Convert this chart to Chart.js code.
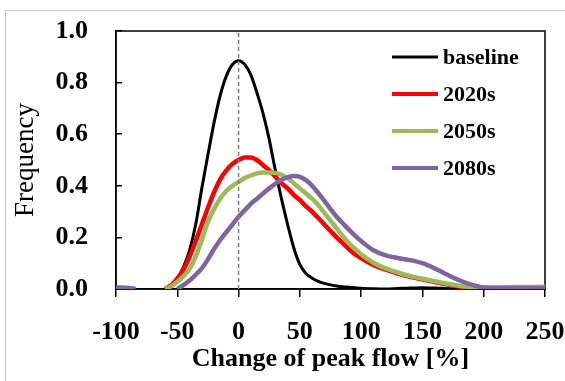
<!DOCTYPE html>
<html>
<head>
<meta charset="utf-8">
<script src="https://cdn.jsdelivr.net/npm/chart.js@4.4.1/dist/chart.umd.min.js"></script>
<style>
  html, body { margin: 0; padding: 0; background: #ffffff; }
  #marco { position: relative; width: 565px; height: 381px; overflow: hidden; }
  #borde { position: absolute; left: 5px; top: 10px; width: 620px; height: 420px; border: 1px solid #c8c8c8; pointer-events: none; }
  canvas { position: absolute; left: 0; top: 0; }
</style>
</head>
<body>
<div id="marco">
  <canvas id="graficaFrecuencia" width="565" height="381"></canvas>
  <div id="borde"></div>
</div>
<script>
// cambio del caudal pico [%]
const cambioX = [-60, -55, -50, -45, -40, -35, -30, -25, -20, -15, -10, -5, 0, 5, 10, 15, 20, 25, 30, 35, 40, 45, 50, 55, 60, 65, 70, 75, 80, 85, 90, 95, 100, 110, 120, 130, 140, 150, 160, 170, 180, 190, 200, 210, 220, 230, 240, 250];

const baseline = [0, 0.012, 0.04, 0.085, 0.15, 0.25, 0.39, 0.52, 0.645, 0.75, 0.825, 0.87, 0.885, 0.87, 0.83, 0.76, 0.68, 0.58, 0.46, 0.35, 0.25, 0.16, 0.095, 0.06, 0.042, 0.03, 0.022, 0.016, 0.012, 0.009, 0.007, 0.005, 0.003, 0.001, 0, 0.002, 0.004, 0.005, 0.004, 0.002, 0, 0, 0, 0, 0, 0, 0, 0];
const s2020 = [0, 0.015, 0.04, 0.075, 0.125, 0.185, 0.25, 0.315, 0.375, 0.425, 0.46, 0.485, 0.5, 0.51, 0.51, 0.5, 0.48, 0.46, 0.435, 0.41, 0.39, 0.365, 0.345, 0.32, 0.3, 0.275, 0.25, 0.225, 0.2, 0.178, 0.155, 0.135, 0.12, 0.093, 0.075, 0.06, 0.047, 0.037, 0.027, 0.018, 0.01, 0.005, 0.002, 0, 0, 0, 0, 0];
const s2050 = [0, 0.01, 0.028, 0.05, 0.078, 0.125, 0.19, 0.26, 0.31, 0.35, 0.38, 0.4, 0.415, 0.43, 0.44, 0.448, 0.452, 0.452, 0.45, 0.443, 0.43, 0.41, 0.39, 0.37, 0.35, 0.325, 0.295, 0.265, 0.235, 0.205, 0.178, 0.155, 0.135, 0.102, 0.08, 0.064, 0.05, 0.04, 0.03, 0.021, 0.013, 0.008, 0.006, 0.006, 0.007, 0.008, 0.008, 0.009];
const s2080 = [null, null, 0, 0.015, 0.033, 0.055, 0.08, 0.115, 0.155, 0.19, 0.22, 0.25, 0.28, 0.305, 0.33, 0.35, 0.37, 0.39, 0.408, 0.423, 0.433, 0.438, 0.435, 0.422, 0.4, 0.372, 0.342, 0.31, 0.28, 0.255, 0.23, 0.207, 0.186, 0.15, 0.13, 0.12, 0.112, 0.1, 0.08, 0.056, 0.034, 0.017, 0.006, 0.004, 0.004, 0.004, 0.004, 0.004];

// cola izquierda de 2080s
const colaX = [-100, -92, -84];
const cola2080 = [0.006, 0.005, 0];

const nombres = ['baseline', '2020s', '2050s', '2080s'];
const colores = ['#000000', '#FF0000', '#9BBB59', '#8064A2'];
const grosores = [3, 4.5, 4.5, 4.5];

const ticksX = [-100, -50, 0, 50, 100, 150, 200, 250];
const ticksY = [0, 0.2, 0.4, 0.6, 0.8, 1.0];

function puntos(xs, ys) {
    return xs.map((x, i) => ({ x: x, y: ys[i] }));
}

const serie2080 = puntos(colaX, cola2080).concat([{ x: -80, y: null }], puntos(cambioX, s2080));
const series = [puntos(cambioX, baseline), puntos(cambioX, s2020), puntos(cambioX, s2050), serie2080];

const fuente = 'Liberation Serif';

/* datasets */
let conjuntos = series.map((datos, i) => ({
    label: nombres[i],
    data: datos,
    borderColor: colores[i],
    borderWidth: grosores[i],
    pointRadius: 0,
    fill: false,
    cubicInterpolationMode: 'monotone',
    spanGaps: false,
    order: 4 - i
}));

conjuntos.push({
    label: 'cero',
    data: [{ x: 0, y: 0 }, { x: 0, y: 1 }],
    borderColor: '#808080',
    borderWidth: 1.5,
    borderDash: [4, 3],
    pointRadius: 0,
    order: 0
});

/* marco del area */
const marcoArea = {
    id: 'marcoArea',
    beforeDatasetsDraw(chart) {
        const { ctx, chartArea } = chart;
        ctx.save();
        ctx.strokeStyle = '#000000';
        ctx.lineWidth = 1.5;
        ctx.strokeRect(chartArea.left, chartArea.top, chartArea.right - chartArea.left, chartArea.bottom - chartArea.top);
        ctx.restore();
    }
};

/* leyenda */
const leyenda = {
    id: 'leyenda',
    afterDraw(chart) {
        const { ctx, chartArea } = chart;
        const x0 = chartArea.right - 153;
        ctx.save();
        ctx.font = 'bold 22px "' + fuente + '"';
        ctx.textBaseline = 'middle';
        ctx.fillStyle = '#000000';
        nombres.forEach((nombre, i) => {
            const y = chartArea.top + 26 + i * 37;
            ctx.strokeStyle = colores[i];
            ctx.lineWidth = i === 0 ? 3 : 4;
            ctx.beginPath();
            ctx.moveTo(x0, y);
            ctx.lineTo(x0 + 46, y);
            ctx.stroke();
            ctx.fillText(nombre, x0 + 51, y + 1);
        });
        ctx.restore();
    }
};

const grafica = document.getElementById('graficaFrecuencia').getContext('2d');

new Chart(grafica, {
    type: 'line',
    data: { datasets: conjuntos },
    plugins: [marcoArea, leyenda],
    options: {
        responsive: false,
        animation: false,
        devicePixelRatio: 1,
        layout: { padding: { top: 31, right: 20, left: 0, bottom: 0 } },
        plugins: {
            legend: { display: false },
            tooltip: { enabled: false }
        },
        scales: {
            x: {
                type: 'linear',
                min: -100,
                max: 250,
                afterFit(scale) {
                    scale.height = 92;
                    scale.paddingLeft = 0;
                    scale.paddingRight = 0;
                },
                afterBuildTicks(scale) { scale.ticks = ticksX.map(v => ({ value: v })); },
                ticks: {
                    color: '#000000',
                    padding: 20,
                    font: { family: fuente, size: 26, weight: 'bold' },
                    callback: v => String(v)
                },
                grid: { drawOnChartArea: false, tickLength: 8, color: '#000000', lineWidth: 1.5 },
                border: { color: '#000000', width: 1.5 },
                title: {
                    display: true,
                    text: 'Change of peak flow [%]',
                    color: '#000000',
                    font: { family: fuente, size: 26, weight: 'bold' },
                    padding: { top: 0, bottom: 6 }
                }
            },
            y: {
                type: 'linear',
                min: 0,
                max: 1,
                afterFit(scale) {
                    scale.width = 116;
                    scale.paddingTop = 0;
                    scale.paddingBottom = 0;
                },
                afterBuildTicks(scale) { scale.ticks = ticksY.map(v => ({ value: v })); },
                ticks: {
                    color: '#000000',
                    padding: 34,
                    font: { family: fuente, size: 26, weight: 'bold' },
                    callback: v => v.toFixed(1)
                },
                grid: { drawOnChartArea: false, tickLength: -6, color: '#000000', lineWidth: 1.5 },
                border: { color: '#000000', width: 1.5 },
                title: {
                    display: true,
                    text: 'Frequency',
                    color: '#000000',
                    font: { family: fuente, size: 27, weight: 'normal' },
                    padding: { top: 10, bottom: 0 }
                }
            }
        }
    }
});
</script>
</body>
</html>
